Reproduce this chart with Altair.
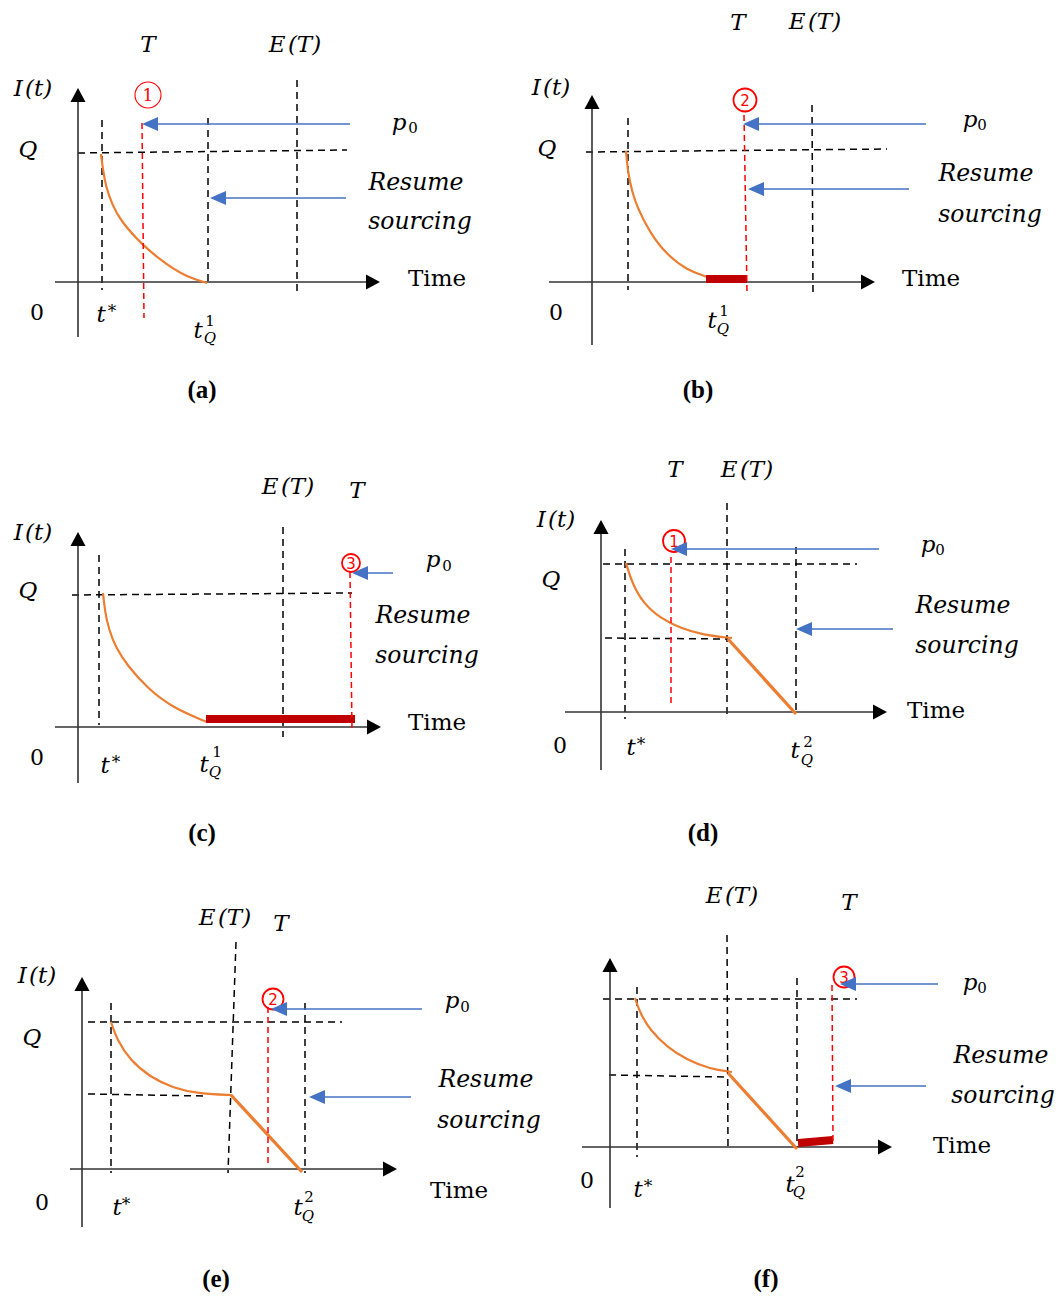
import altair as alt
import pandas as pd

# ---------------- data (positions, in page pixels) ----------------
# solid axes: x1, y1, x2, y2
axis_lines = [
    (55, 282, 372, 282), (78, 337, 78, 96),          # (a)
    (549, 282, 867, 282), (592, 345, 592, 103),      # (b)
    (55, 727, 373, 727), (78, 783, 78, 540),         # (c)
    (565, 712, 879, 712), (601, 770, 601, 528),      # (d)
    (70, 1169, 389, 1169), (82, 1227, 82, 985),      # (e)
    (582, 1147, 884, 1147), (610, 1208, 610, 966),   # (f)
]
x_arrow_tips = [(380, 282), (875, 282), (381, 727), (887, 712), (397, 1169), (892, 1147)]
y_arrow_tips = [(78, 88), (592, 95), (78, 532), (601, 520), (82, 977), (610, 958)]

black_dashed = [
    (102, 120, 102, 290), (78, 153, 347, 150), (208, 118, 208, 282), (297, 80, 297, 292),
    (628, 118, 628, 290), (586, 152, 887, 149), (812, 105, 813, 292),
    (99, 555, 99, 725), (72, 595, 352, 593), (283, 527, 283, 737),
    (625, 549, 625, 719), (603, 564, 857, 564), (605, 638, 727, 639), (727, 503, 727, 715), (796, 547, 796, 713),
    (111, 1003, 111, 1173), (88, 1022, 342, 1022), (88, 1094, 205, 1096), (236, 942, 228, 1173), (305, 1003, 305, 1173),
    (637, 987, 637, 1157), (603, 999, 857, 999), (609, 1075, 727, 1077), (727, 935, 728, 1150), (797, 978, 797, 1147),
]
red_dashed = [
    (142, 123, 144, 318), (744, 115, 747, 293), (350, 572, 352, 730),
    (671, 557, 671, 707), (268, 1007, 268, 1167), (832, 985, 833, 1142),
]
blue_shafts = [
    (350, 124, 150, 124), (346, 198, 218, 198),
    (926, 124, 751, 124), (909, 189, 756, 189),
    (393, 573, 360, 573),
    (879, 549, 679, 549), (893, 629, 804, 629),
    (422, 1009, 279, 1009), (411, 1097, 317, 1097),
    (938, 984, 848, 984), (926, 1086, 843, 1086),
]
blue_tips = [(142, 124), (210, 198), (743, 124), (748, 189), (352, 573),
             (671, 549), (796, 629), (271, 1009), (309, 1097), (840, 984), (835, 1086)]

curve_a = [(101, 154), (103, 170), (106, 187), (112, 204), (120, 220), (142, 245), (167, 265), (187, 277), (207, 283)]
curve_b = [(626, 151), (628, 173), (632, 191), (637, 207), (650, 233), (667, 255), (687, 270), (707, 277)]
curve_c = [(103, 593), (105, 612), (109, 630), (116, 648), (127, 665), (147, 688), (173, 708), (207, 722)]
curve_d = [(626, 563), (632, 583), (643, 603), (660, 618), (680, 628), (703, 635), (732, 638)]
curve_e = [(111, 1022), (117, 1040), (130, 1060), (150, 1077), (173, 1088), (200, 1094), (232, 1095)]
curve_f = [(635, 998), (640, 1013), (650, 1030), (667, 1047), (687, 1060), (710, 1069), (732, 1072)]
orange_straight = [(728, 639, 796, 714), (231, 1095, 302, 1172), (728, 1073, 797, 1149)]
red_bars = [(706, 279, 747, 279), (206, 719, 355, 719), (798, 1143, 833, 1140)]

circles = [(148, 95, 26, 1.1, "1"), (745, 100, 23, 1.8, "2"), (351, 563, 18, 1.8, "3"),
           (674, 541, 22, 1.8, "1"), (273, 999, 21, 1.8, "2"), (844, 977, 21, 1.8, "3")]

math_text = [
    ("T", 148, 52), ("I\u200a(t)", 33, 96), ("Q", 28, 157), ("t", 101, 322), ("p", 399, 130),
    ("T", 738, 30), ("I\u200a(t)", 551, 95), ("Q", 547, 156), ("p", 970, 127),
    ("T", 357, 498), ("I\u200a(t)", 33, 540), ("Q", 28, 598), ("t", 105, 773), ("p", 433, 567),
    ("T", 675, 477), ("I\u200a(t)", 556, 527), ("Q", 551, 587), ("t", 631, 755), ("p", 928, 552),
    ("T", 281, 931), ("I\u200a(t)", 37, 983), ("Q", 32, 1045), ("t", 117, 1215), ("p", 452, 1008),
    ("T", 849, 910), ("t", 638, 1197), ("p", 970, 990),
]
expect_text = [("E\u200a(T)", 295, 52), ("E\u200a(T)", 815, 29), ("E\u200a(T)", 288, 494),
               ("E\u200a(T)", 747, 477), ("E\u200a(T)", 225, 925), ("E\u200a(T)", 732, 903)]
tq_t = [("t", 198, 338), ("t", 712, 328), ("t", 204, 772), ("t", 795, 758), ("t", 298, 1215), ("t", 790, 1192)]
tq_sub = [("Q", 210, 343), ("Q", 723, 334), ("Q", 215, 777), ("Q", 807, 765), ("Q", 308, 1221), ("Q", 799, 1197)]
tq_sup = [("1", 210, 326), ("1", 724, 316), ("1", 217, 757), ("2", 808, 747), ("2", 309, 1202), ("2", 800, 1177)]
p_sub = [("0", 413, 133), ("0", 982, 130), ("0", 447, 571), ("0", 940, 555), ("0", 465, 1012), ("0", 982, 993)]
stars = [("*", 112, 317), ("*", 116, 768), ("*", 641, 750), ("*", 126, 1210), ("*", 648, 1192)]

body_italic = [
    ("Resume", 416, 190), ("sourcing", 420, 229),
    ("Resume", 986, 181), ("sourcing", 990, 222),
    ("Resume", 423, 623), ("sourcing", 427, 663),
    ("Resume", 963, 613), ("sourcing", 967, 653),
    ("Resume", 486, 1087), ("sourcing", 489, 1128),
    ("Resume", 1001, 1063), ("sourcing", 1003, 1103),
]
time_text = [("Time", 437, 286), ("Time", 931, 286), ("Time", 437, 730),
             ("Time", 936, 718), ("Time", 459, 1198), ("Time", 962, 1153)]
zero_text = [("0", 37, 320), ("0", 556, 320), ("0", 37, 765), ("0", 560, 753), ("0", 42, 1210), ("0", 587, 1188)]
captions = [("(a)", 202, 398), ("(b)", 698, 398), ("(c)", 202, 841),
            ("(d)", 703, 841), ("(e)", 216, 1287), ("(f)", 766, 1287)]

# ---------------- chart ----------------
XS = alt.Scale(domain=[8, 1055], nice=False, zero=False)
YS = alt.Scale(domain=[8, 1293], nice=False, zero=False, reverse=True)


def seg_df(segs):
    return pd.DataFrame(segs, columns=["x", "y", "x2", "y2"])


def pt_df(pts):
    return pd.DataFrame(pts, columns=["x", "y"])


def txt_df(items):
    return pd.DataFrame(items, columns=["t", "x", "y"])


def rules(segs, **mk):
    return alt.Chart(seg_df(segs)).mark_rule(**mk).encode(
        x=alt.X("x:Q", scale=XS, axis=None), y=alt.Y("y:Q", scale=YS, axis=None),
        x2="x2:Q", y2="y2:Q")


def heads(pts, shape, size, color):
    return alt.Chart(pt_df(pts)).mark_point(
        shape=shape, size=size, filled=True, color=color, opacity=1, strokeWidth=0
    ).encode(x=alt.X("x:Q", scale=XS, axis=None), y=alt.Y("y:Q", scale=YS, axis=None))


def texts(items, **mk):
    base = dict(align="center", baseline="alphabetic", color="black")
    base.update(mk)
    return alt.Chart(txt_df(items)).mark_text(**base).encode(
        x=alt.X("x:Q", scale=XS, axis=None), y=alt.Y("y:Q", scale=YS, axis=None), text="t:N")


curve_rows = []
for cid, pts in enumerate([curve_a, curve_b, curve_c, curve_d, curve_e, curve_f]):
    for i, (x, y) in enumerate(pts):
        curve_rows.append({"x": x, "y": y, "cid": cid, "i": i})
curves = alt.Chart(pd.DataFrame(curve_rows)).mark_line(
    color="#ED7D31", strokeWidth=2.2, interpolate="basis"
).encode(x=alt.X("x:Q", scale=XS, axis=None), y=alt.Y("y:Q", scale=YS, axis=None),
         detail="cid:N", order="i:Q")

circ_df = pd.DataFrame(circles, columns=["x", "y", "d", "sw", "t"])
circ_df["size"] = circ_df["d"] ** 2
circle_marks = alt.Chart(circ_df).mark_point(shape="circle", filled=False, color="#FF0000", opacity=1).encode(
    x=alt.X("x:Q", scale=XS, axis=None), y=alt.Y("y:Q", scale=YS, axis=None),
    size=alt.Size("size:Q", scale=None), strokeWidth=alt.StrokeWidth("sw:Q", scale=None))
circle_nums_a = texts([(c[4], c[0], c[1]) for c in circles[:1]], font="DejaVu Serif", fontSize=17,
                      color="#FF0000", baseline="middle", dy=1)
circle_nums = texts([(c[4], c[0], c[1]) for c in circles[1:]], font="DejaVu Sans", fontSize=15,
                    color="#FF0000", baseline="middle", dy=1)

MATH = "DejaVu Serif"
layers = [
    rules(black_dashed, color="black", strokeWidth=1.5, strokeDash=[7, 5]),
    rules(axis_lines, color="#333333", strokeWidth=1.6),
    heads(x_arrow_tips, "M0,0L-1,-0.54L-1,0.54Z", 784, "black"),
    heads(y_arrow_tips, "M0,0L-0.54,1L0.54,1Z", 784, "black"),
    curves,
    rules(orange_straight, color="#ED7D31", strokeWidth=3.2),
    rules(red_bars, color="#C00000", strokeWidth=8, strokeCap="butt"),
    rules(red_dashed, color="#FF0000", strokeWidth=1.5, strokeDash=[6, 4]),
    circle_marks, circle_nums_a, circle_nums,
    rules(blue_shafts, color="#4472C4", strokeWidth=1.5),
    heads(blue_tips, "M0,0L1,-0.44L1,0.44Z", 1024, "#4472C4"),
    texts(math_text, font=MATH, fontSize=23, fontStyle="italic"),
    texts(expect_text, font=MATH, fontSize=23, fontStyle="italic"),
    texts(tq_t, font=MATH, fontSize=23, fontStyle="italic"),
    texts(tq_sub, font=MATH, fontSize=15, fontStyle="italic"),
    texts(tq_sup, font=MATH, fontSize=15),
    texts(p_sub, font=MATH, fontSize=15),
    texts(stars, font=MATH, fontSize=17),
    texts(body_italic, font=MATH, fontSize=23.5, fontStyle="italic"),
    texts(time_text, font=MATH, fontSize=23),
    texts(zero_text, font=MATH, fontSize=22),
    texts(captions, font="Liberation Serif", fontSize=25, fontWeight="bold"),
]

chart = alt.layer(*layers).properties(
    width=1047, height=1285, padding=0,
    autosize=alt.AutoSizeParams(type="none"),
).configure_view(stroke=None)

chart.save("out.html", embed_options={"renderer": "svg", "actions": False})
